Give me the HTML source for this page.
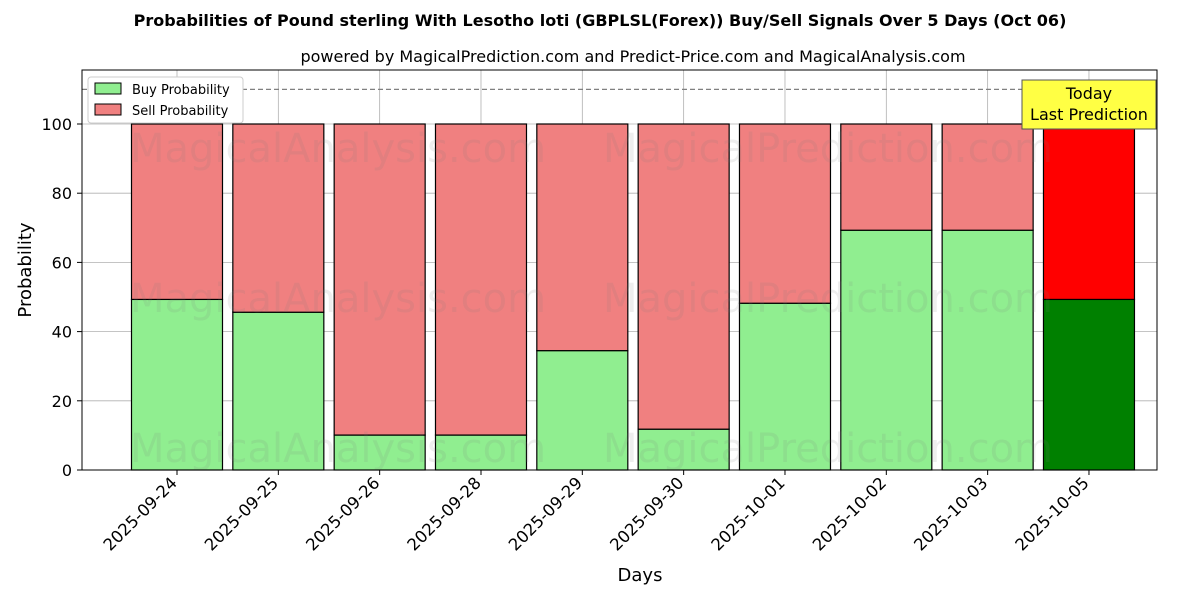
<!DOCTYPE html>
<html><head><meta charset="utf-8"><style>
body{margin:0;background:#fff;font-family:"Liberation Sans","DejaVu Sans",sans-serif;}
</style></head><body>
<svg id="c" width="1200" height="600" xmlns="http://www.w3.org/2000/svg" font-family="DejaVu Sans, Liberation Sans, sans-serif">
<text x="600" y="26" text-anchor="middle" font-size="16" font-weight="bold">Probabilities of Pound sterling With Lesotho loti (GBPLSL(Forex)) Buy/Sell Signals Over 5 Days (Oct 06)</text>
<text x="633" y="62" text-anchor="middle" font-size="16">powered by MagicalPrediction.com and Predict-Price.com and MagicalAnalysis.com</text>
<g id="grid"></g><g id="bars"></g><g id="wm"></g><g id="ticks"></g>
<rect x="82" y="70" width="1075" height="400" fill="none" stroke="#000" stroke-width="1"/>
<text x="640" y="581" text-anchor="middle" font-size="18">Days</text>
<text transform="translate(31,270) rotate(-90)" text-anchor="middle" font-size="18">Probability</text>
<g>
<rect x="88" y="77" width="155" height="46" fill="#fff" stroke="#ccc" rx="3"/>
<rect x="95" y="83" width="26" height="11" fill="lightgreen" stroke="#000"/>
<text x="132" y="94" font-size="13">Buy Probability</text>
<rect x="95" y="104" width="26" height="11" fill="lightcoral" stroke="#000"/>
<text x="132" y="115" font-size="13">Sell Probability</text>
</g>
</svg>
<script>
const categories=["2025-09-24","2025-09-25","2025-09-26","2025-09-28","2025-09-29","2025-09-30","2025-10-01","2025-10-02","2025-10-03","2025-10-05"];
const buyValues=[49.3,45.6,10.1,10.1,34.5,11.8,48.2,69.3,69.3,49.3];
const sellValues=[50.7,54.4,89.9,89.9,65.5,88.2,51.8,30.7,30.7,50.7];
const yTicks=[0,20,40,60,80,100];
const NS="http://www.w3.org/2000/svg";
const x=i=>177+(i)*101.33;
const y=v=>470-v*3.46;
function mk(tag,attrs,parent){const e=document.createElementNS(NS,tag);for(const k in attrs)e.setAttribute(k,attrs[k]);document.getElementById(parent).appendChild(e);return e;}
yTicks.forEach(t=>{
 const g=mk('line',{x1:82,x2:1157,y1:y(t),y2:y(t),stroke:'#b0b0b0','stroke-width':0.8},'grid');
 
 
 mk('line',{x1:77,x2:82,y1:y(t),y2:y(t),stroke:'#000'},'ticks');
 const l=mk('text',{x:72,y:y(t)+6,'text-anchor':'end','font-size':16},'ticks');l.textContent=t;
 
 
});
categories.forEach((c,i)=>{
 const g=mk('line',{x1:x(i),x2:x(i),y1:70,y2:470,stroke:'#b0b0b0','stroke-width':0.8},'grid');
 
 
});
const th=mk('line',{x1:82,x2:1157,y1:y(110),y2:y(110),stroke:'#808080','stroke-width':1.2,'stroke-dasharray':'5,3'},'grid');


categories.forEach((c,i)=>{
 const last=i===categories.length-1;
 const w=91,b=buyValues[i],s=sellValues[i];
 const rb=mk('rect',{x:x(i)-w/2,y:y(b),width:w,height:y(0)-y(b),fill:last?'green':'lightgreen',stroke:'#000','stroke-width':1.2},'bars');
 
 
 const rs=mk('rect',{x:x(i)-w/2,y:y(b+s),width:w,height:y(b)-y(b+s),fill:last?'red':'lightcoral',stroke:'#000','stroke-width':1.2},'bars');
 
 
 mk('line',{x1:x(i),x2:x(i),y1:470,y2:475,stroke:'#000'},'ticks');
 const t=mk('text',{transform:`translate(${x(i)+1},${484}) rotate(-45)`,'text-anchor':'end','font-size':16.5},'ticks');t.textContent=c;
 
 
});
[[130,148,"MagicalAnalysis.com"],[603,148,"MagicalPrediction.com"],[130,298,"MagicalAnalysis.com"],[603,298,"MagicalPrediction.com"],[130,448,"MagicalAnalysis.com"],[603,448,"MagicalPrediction.com"]].forEach(a=>{
 const t=mk('text',{x:a[0],y:a[1]+14,'font-size':40,fill:'rgba(120,120,120,0.13)'},'wm');t.textContent=a[2];
 
 
});
const bx=mk('rect',{x:1022,y:80,width:134,height:49,fill:'#ffff44',stroke:'#555'},'ticks');


const t1=mk('text',{x:1089,y:99,'text-anchor':'middle','font-size':16},'ticks');t1.textContent='Today';


const t2=mk('text',{x:1089,y:120,'text-anchor':'middle','font-size':16},'ticks');t2.textContent='Last Prediction';


</script>
</body></html>
